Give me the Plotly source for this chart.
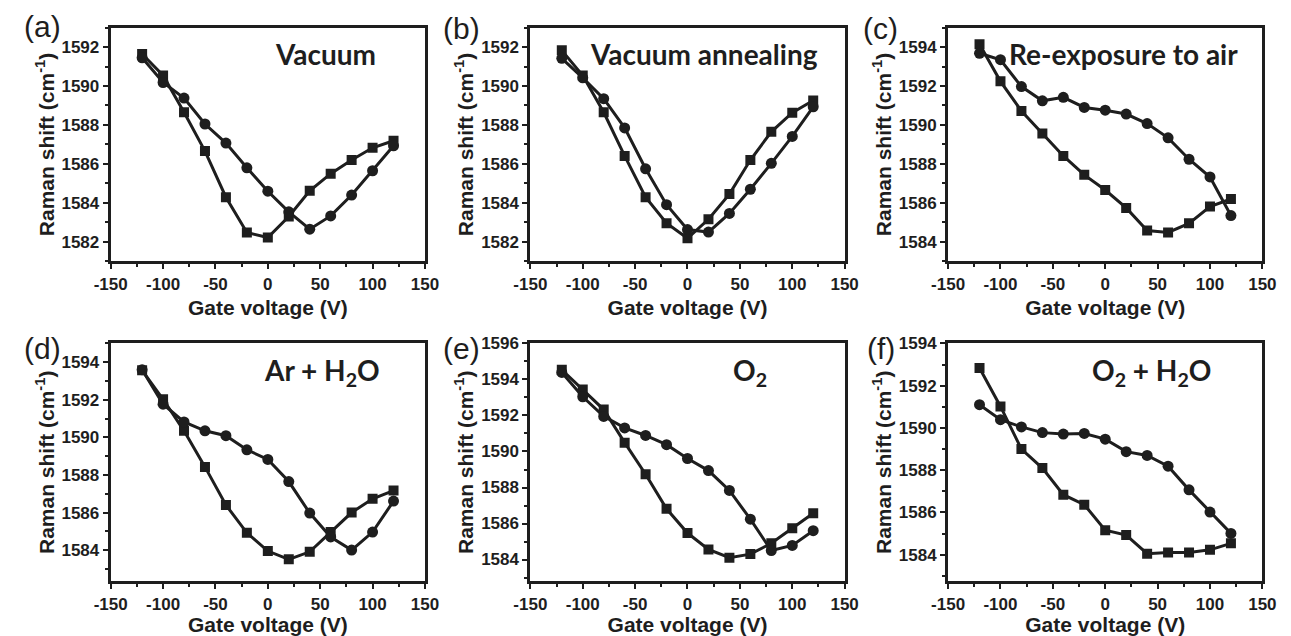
import plotly.graph_objects as go

# ---------------- data ----------------
gate_voltage = [-120, -100, -80, -60, -40, -20, 0, 20, 40, 60, 80, 100, 120]

a_square = [1591.64, 1590.54, 1588.65, 1586.66, 1584.29, 1582.48, 1582.22, 1583.30, 1584.62, 1585.50, 1586.20, 1586.83, 1587.19]
a_circle = [1591.45, 1590.18, 1589.38, 1588.05, 1587.07, 1585.80, 1584.60, 1583.54, 1582.65, 1583.33, 1584.40, 1585.65, 1586.93]

b_square = [1591.83, 1590.54, 1588.65, 1586.41, 1584.29, 1582.96, 1582.18, 1583.16, 1584.45, 1586.20, 1587.65, 1588.63, 1589.26]
b_circle = [1591.42, 1590.42, 1589.35, 1587.85, 1585.75, 1583.91, 1582.63, 1582.50, 1583.46, 1584.70, 1586.03, 1587.41, 1588.93]

c_square = [1594.15, 1592.24, 1590.72, 1589.56, 1588.41, 1587.44, 1586.66, 1585.74, 1584.58, 1584.48, 1584.95, 1585.81, 1586.20]
c_circle = [1593.68, 1593.35, 1591.97, 1591.24, 1591.42, 1590.90, 1590.76, 1590.56, 1590.07, 1589.34, 1588.24, 1587.33, 1585.35]

d_square = [1593.57, 1592.03, 1590.35, 1588.43, 1586.40, 1584.92, 1583.95, 1583.51, 1583.91, 1584.96, 1586.00, 1586.73, 1587.17]
d_circle = [1593.60, 1591.77, 1590.82, 1590.35, 1590.09, 1589.34, 1588.83, 1587.65, 1585.97, 1584.70, 1584.00, 1584.96, 1586.61]

e_square = [1594.54, 1593.45, 1592.33, 1590.49, 1588.74, 1586.82, 1585.47, 1584.56, 1584.10, 1584.30, 1584.90, 1585.74, 1586.57]
e_circle = [1594.39, 1593.04, 1591.95, 1591.31, 1590.89, 1590.38, 1589.61, 1588.94, 1587.84, 1586.24, 1584.50, 1584.78, 1585.60]

f_square = [1592.84, 1591.02, 1589.00, 1588.10, 1586.84, 1586.37, 1585.16, 1584.93, 1584.05, 1584.11, 1584.11, 1584.23, 1584.54]
f_circle = [1591.10, 1590.39, 1590.05, 1589.78, 1589.71, 1589.74, 1589.47, 1588.88, 1588.70, 1588.19, 1587.07, 1586.02, 1585.01]

panel_letters = ["(a)", "(b)", "(c)", "(d)", "(e)", "(f)"]
panel_titles = ["Vacuum", "Vacuum annealing", "Re-exposure to air",
                "Ar + H<sub>2</sub>O", "O<sub>2</sub>", "O<sub>2</sub> + H<sub>2</sub>O"]

x_tick_values = [-150, -100, -50, 0, 50, 100, 150]
x_tick_labels = ["-150", "-100", "-50", "0", "50", "100", "150"]

y_ranges = [[1581, 1593], [1581, 1593], [1583, 1595],
            [1582.35, 1595], [1582.8, 1596], [1582.75, 1594]]

squares = [a_square, b_square, c_square, d_square, e_square, f_square]
circles = [a_circle, b_circle, c_circle, d_circle, e_circle, f_circle]

# ---------------- layout geometry (pixels) ----------------
W, H = 1291, 636
col_px = [(96, 418), (526, 848), (954, 1276)]
row_px = [(19, 258), (342, 585)]
letter_pos = [(26, 18), (455, 20), (885, 20), (26, 347), (455, 347), (885, 347)]
title_pos = [(316, 46), (704, 46), (1134, 46), (312, 371), (751, 371), (1162, 371)]

INK = "#1e1e1e"
TICK_FONT = dict(family="Liberation Sans, Arial, sans-serif", size=17, color=INK, weight="bold")
TITLE_FONT = dict(family="Liberation Sans, Arial, sans-serif", size=21, color=INK, weight="bold")

fig = go.Figure()
layout = dict(
    width=W, height=H,
    margin=dict(l=0, r=0, t=0, b=0),
    paper_bgcolor="white", plot_bgcolor="white",
    showlegend=False,
    annotations=[],
)

for i in range(6):
    r, c = divmod(i, 3)
    n = i + 1
    xa = "x" if n == 1 else f"x{n}"
    ya = "y" if n == 1 else f"y{n}"
    xkey = "xaxis" if n == 1 else f"xaxis{n}"
    ykey = "yaxis" if n == 1 else f"yaxis{n}"
    x0, x1 = col_px[c]
    y0, y1 = row_px[r]

    fig.add_trace(go.Scatter(
        x=gate_voltage, y=squares[i], mode="lines+markers",
        line=dict(color=INK, width=3),
        marker=dict(symbol="square", size=10, color=INK),
        xaxis=xa, yaxis=ya))
    fig.add_trace(go.Scatter(
        x=gate_voltage, y=circles[i], mode="lines+markers",
        line=dict(color=INK, width=3),
        marker=dict(symbol="circle", size=11, color=INK),
        xaxis=xa, yaxis=ya))

    layout[xkey] = dict(
        domain=[x0 / W, x1 / W], anchor=ya, range=[-150, 150],
        tickmode="array", tickvals=x_tick_values, ticktext=x_tick_labels,
        ticks="outside", ticklen=5, tickwidth=2, tickcolor=INK,
        minor=dict(tickmode="linear", tick0=-125, dtick=50, ticks="outside",
                   ticklen=3, tickwidth=2, tickcolor=INK),
        showline=True, linewidth=3, linecolor=INK, mirror=True,
        showgrid=False, zeroline=False,
        tickfont=TICK_FONT,
        title=dict(text="Gate voltage (V)", font=TITLE_FONT, standoff=8),
    )
    yr = y_ranges[i]
    layout[ykey] = dict(
        domain=[1 - y1 / H, 1 - y0 / H], anchor=xa, range=yr,
        tickmode="linear", tick0=1582, dtick=2,
        ticks="outside", ticklen=5, tickwidth=2, tickcolor=INK,
        minor=dict(tickmode="linear", tick0=1581, dtick=1, ticks="outside",
                   ticklen=3, tickwidth=2, tickcolor=INK),
        showline=True, linewidth=3, linecolor=INK, mirror=True,
        showgrid=False, zeroline=False,
        tickfont=TICK_FONT,
        title=dict(text="Raman shift (cm<sup>-1</sup>)", font=TITLE_FONT, standoff=2),
    )

    lx, ly = letter_pos[i]
    layout["annotations"].append(dict(
        x=lx / W, y=1 - ly / H, xref="paper", yref="paper",
        text=panel_letters[i], showarrow=False, xanchor="center", yanchor="middle",
        font=dict(family="Liberation Sans, Arial, sans-serif", size=30, color=INK)))
    tx, ty = title_pos[i]
    layout["annotations"].append(dict(
        x=tx / W, y=1 - ty / H, xref="paper", yref="paper",
        text=panel_titles[i], showarrow=False, xanchor="center", yanchor="middle",
        font=dict(family="Lato, sans-serif", size=28, color=INK, weight="bold")))

fig.update_layout(**layout)
fig.write_html("out.html")
